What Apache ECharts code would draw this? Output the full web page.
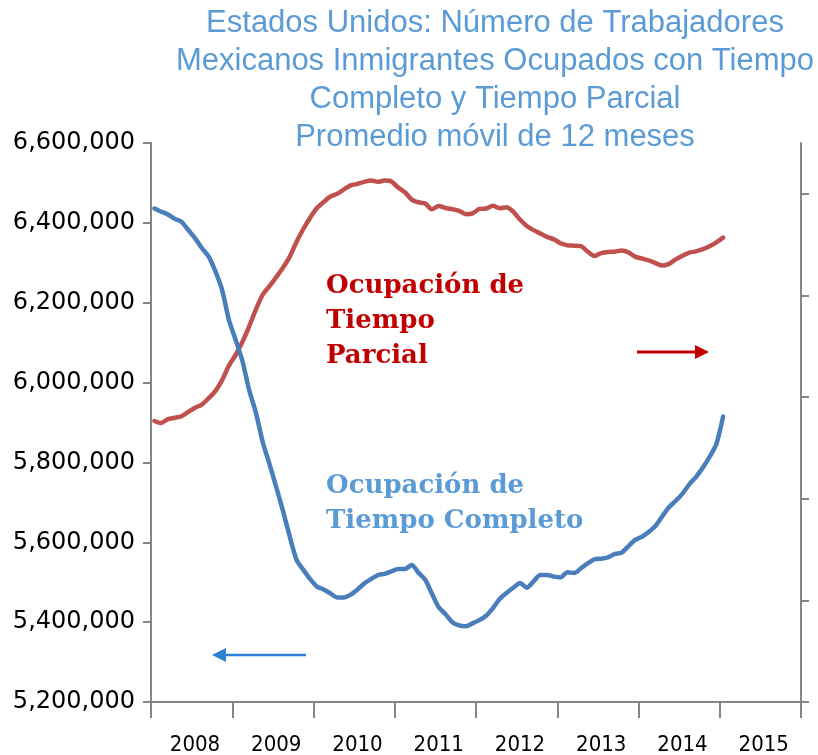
<!DOCTYPE html>
<html>
<head>
<meta charset="utf-8">
<script src="https://cdn.jsdelivr.net/npm/echarts@6/dist/echarts.min.js"></script>
<style>
  html, body { margin: 0; padding: 0; background: #fff; }
  #chart { width: 818px; height: 755px; }
</style>
</head>
<body>
<div id="chart"></div>
<script>
// años del eje x (cada año = 12 meses)
const years = ['2008', '2009', '2010', '2011', '2012', '2013', '2014', '2015'];
const months = [];
years.forEach(function (y) {
  for (let m = 1; m <= 12; m++) months.push(y + '-' + (m < 10 ? '0' : '') + m);
});

// promedio móvil de 12 meses (eje izquierdo)
const tiempoCompleto = [
  6436000, 6428000, 6421000, 6410000, 6403000, 6382000, 6362000, 6337000, 6316000, 6279000,
  6232000, 6157000, 6107000, 6054000, 5981000, 5924000, 5851000, 5796000, 5738000, 5678000,
  5614000, 5556000, 5531000, 5508000, 5489000, 5482000, 5472000, 5462000, 5462000, 5469000,
  5482000, 5497000, 5508000, 5518000, 5521000, 5527000, 5533000, 5533000, 5543000, 5524000,
  5506000, 5471000, 5437000, 5420000, 5400000, 5392000, 5390000, 5397000, 5405000, 5416000,
  5435000, 5458000, 5473000, 5486000, 5498000, 5486000, 5502000, 5518000, 5518000, 5514000,
  5512000, 5525000, 5523000, 5535000, 5547000, 5557000, 5559000, 5562000, 5571000, 5574000,
  5590000, 5606000, 5614000, 5626000, 5641000, 5665000, 5688000, 5704000, 5722000, 5745000,
  5764000, 5787000, 5814000, 5846000, 5915000
];

// tiempo parcial (eje derecho, sin etiquetas visibles)
const tiempoParcial = [
  1176500, 1174500, 1178400, 1179600, 1181200, 1185300, 1189500, 1192600, 1198800, 1205900,
  1216700, 1230800, 1241500, 1254300, 1269600, 1286300, 1300700, 1309200, 1318100, 1327500,
  1338200, 1352900, 1365400, 1376500, 1386100, 1391900, 1397400, 1400000, 1404400, 1408300,
  1409800, 1411800, 1413100, 1411800, 1413000, 1412200, 1406100, 1401500, 1394300, 1391700,
  1390500, 1384800, 1388000, 1386000, 1384900, 1383300, 1380000, 1380800, 1385100, 1385600,
  1388200, 1385800, 1386800, 1382400, 1374700, 1368400, 1364300, 1360900, 1357600, 1355200,
  1351300, 1349300, 1349000, 1348500, 1343200, 1338900, 1341700, 1342800, 1343100, 1344200,
  1342400, 1338200, 1336400, 1334500, 1331900, 1329400, 1331100, 1335500, 1339100, 1342200,
  1343400, 1345600, 1348500, 1352300, 1356900
];

const rightTicks = [900000, 1000000, 1100000, 1200000, 1300000, 1400000];

const colors = {
  axis: '#868686',
  blue: '#4a7ebb',
  red: '#c0504d',
  title: '#5b9bd5',
  darkRed: '#c00000',
  arrowBlue: '#2e7fd6'
};

const chart = echarts.init(document.getElementById('chart'));

const option = {
  animation: false,
  title: {
    text: 'Estados Unidos: Número de Trabajadores\nMexicanos Inmigrantes Ocupados con Tiempo\nCompleto y Tiempo Parcial\nPromedio móvil de 12 meses',
    left: 495,
    top: 4,
    padding: 0,
    textAlign: 'center',
    textStyle: {
      fontFamily: 'Liberation Sans',
      fontWeight: 'normal',
      fontSize: 31,
      lineHeight: 38,
      color: colors.title
    }
  },
  grid: { left: 151, right: 17, top: 143, bottom: 53, outerBoundsMode: 'none' },
  xAxis: {
    type: 'category',
    data: months,
    boundaryGap: true,
    axisLine: { lineStyle: { color: colors.axis, width: 2 } },
    axisTick: { show: true, interval: 11, length: 16, lineStyle: { color: colors.axis, width: 2 } },
    axisLabel: {
      interval: function (index) { return index % 12 === 6; },
      formatter: function (v) { return v.slice(0, 4); },
      margin: 32,
      fontFamily: 'DejaVu Sans Condensed, Liberation Sans Narrow',
      fontSize: 22,
      color: '#000'
    },
    splitLine: { show: false }
  },
  yAxis: [
    {
      type: 'value',
      min: 5200000,
      max: 6600000,
      interval: 200000,
      axisLine: { show: true, lineStyle: { color: colors.axis, width: 2 } },
      axisTick: { show: true, length: 8, lineStyle: { color: colors.axis, width: 2 } },
      axisLabel: {
        margin: 16,
        fontFamily: 'DejaVu Sans',
        fontSize: 24,
        color: '#000',
        formatter: function (v) { return v.toLocaleString('en-US'); }
      },
      splitLine: { show: false }
    },
    {
      type: 'value',
      position: 'right',
      min: 900000,
      max: 1450000,
      interval: 100000,
      axisLine: { show: true, lineStyle: { color: colors.axis, width: 2 } },
      axisTick: { show: true, length: 8, customValues: rightTicks, lineStyle: { color: colors.axis, width: 2 } },
      axisLabel: { show: false },
      splitLine: { show: false }
    }
  ],
  series: [
    {
      name: 'Tiempo Parcial',
      type: 'line',
      yAxisIndex: 1,
      data: tiempoParcial,
      showSymbol: false,
      smooth: 0.25,
      lineStyle: { color: colors.red, width: 4.5, cap: 'round', join: 'round' }
    },
    {
      name: 'Tiempo Completo',
      type: 'line',
      yAxisIndex: 0,
      data: tiempoCompleto,
      showSymbol: false,
      smooth: 0.25,
      lineStyle: { color: colors.blue, width: 4.5, cap: 'round', join: 'round' }
    }
  ],
  graphic: [
    {
      type: 'text',
      left: 326,
      top: 269,
      style: {
        text: 'Ocupación de\nTiempo\nParcial',
        fontFamily: 'DejaVu Serif',
        fontWeight: 'bold',
        fontSize: 26,
        lineHeight: 35,
        fill: colors.darkRed
      }
    },
    {
      type: 'text',
      left: 326,
      top: 469,
      style: {
        text: 'Ocupación de\nTiempo Completo',
        fontFamily: 'DejaVu Serif',
        fontWeight: 'bold',
        fontSize: 26,
        lineHeight: 35,
        fill: colors.title
      }
    },
    {
      type: 'group',
      children: [
        { type: 'line', shape: { x1: 637, y1: 352, x2: 698, y2: 352 }, style: { stroke: colors.darkRed, lineWidth: 3 } },
        { type: 'polygon', shape: { points: [[709, 352], [695, 345], [695, 359]] }, style: { fill: colors.darkRed } },
        { type: 'line', shape: { x1: 306, y1: 655, x2: 222, y2: 655 }, style: { stroke: colors.arrowBlue, lineWidth: 2.5 } },
        { type: 'polygon', shape: { points: [[212, 655], [226, 648], [226, 662]] }, style: { fill: colors.arrowBlue } }
      ]
    }
  ]
};

chart.setOption(option);
</script>
</body>
</html>
